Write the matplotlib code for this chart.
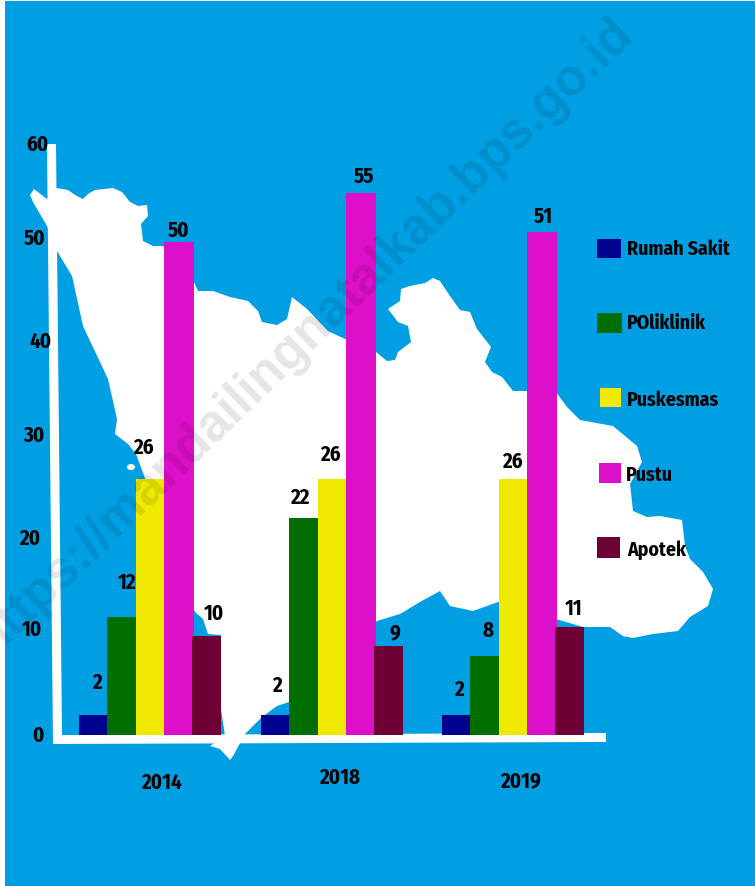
import matplotlib
matplotlib.use('Agg')
import matplotlib.pyplot as plt
from matplotlib.patches import Polygon, Rectangle, Ellipse

years = ['2014', '2018', '2019']
series = ['Rumah Sakit', 'POliklinik', 'Puskesmas', 'Pustu', 'Apotek']
rumah_sakit = [2, 2, 2]
poliklinik = [12, 22, 8]
puskesmas = [26, 26, 26]
pustu = [50, 55, 51]
apotek = [10, 9, 11]
ticks = [60, 50, 40, 30, 20, 10, 0]

values = [rumah_sakit, poliklinik, puskesmas, pustu, apotek]
colors = ['#00008e', '#006f00', '#efea00', '#dc10c8', '#6d0035']
bg = '#009fe3'

# layout, all in image pixels
W, H = 755, 887
base_px, top_px = 736, 144.8
group_left = [79, 261, 442]
bar_off = [0, 28, 56.5, 85, 113]
bar_w = [28, 29, 29, 30, 28.5]
tick_xy = [(37, 144), (35, 238), (41, 341), (34, 435), (30, 538), (32, 629), (38, 735)]
year_xy = [(161, 782), (340, 777), (520, 780)]
label_xy = [
    [(97, 682), (277, 685), (459, 689)],
    [(127, 582), (300, 497), (488, 630)],
    [(143, 447), (330, 454), (512, 461)],
    [(179, 230), (364, 176), (543, 216)],
    [(214, 613), (395, 632), (574, 608)],
]
legend_box = [(597, 240, 24, 19), (597, 314, 25, 20), (600, 389, 21, 19), (599, 464, 22, 20), (597, 538, 23, 21)]
legend_text = [(627, 248), (627, 322), (627, 399), (626, 474), (627, 549)]

# outline of the map behind the chart
island = [
    (30, 196), (34, 190), (47, 200), (57, 189), (68, 191), (75, 196), (83, 200), (88, 195), (95, 191),
    (113, 189), (122, 193), (130, 203), (138, 207), (147, 206), (148, 217), (141, 225), (143, 242),
    (153, 247), (163, 247), (194, 283), (198, 292), (213, 292), (230, 298), (248, 302), (258, 312),
    (262, 323), (277, 326), (287, 320), (292, 298), (307, 310), (328, 332), (345, 340), (376, 353),
    (387, 362), (395, 361), (398, 353), (411, 343), (408, 327), (398, 323), (388, 310), (400, 302),
    (401, 290), (410, 287), (425, 284), (433, 279), (440, 282), (450, 297), (460, 311), (470, 313),
    (477, 330), (491, 348), (485, 363), (492, 373), (502, 378), (513, 392), (527, 392), (556, 393),
    (567, 408), (580, 421), (613, 427), (637, 447), (642, 463), (630, 485), (633, 512), (647, 518),
    (660, 517), (682, 521), (685, 547), (690, 560), (703, 573), (713, 590), (708, 607), (690, 618),
    (678, 632), (653, 635), (633, 639), (623, 637), (610, 628), (583, 628), (498, 603), (473, 612),
    (450, 607), (440, 592), (420, 603), (400, 615), (377, 622), (289, 703), (277, 707), (262, 718),
    (245, 735), (233, 757), (230, 761), (220, 750), (210, 747), (225, 737), (221, 710), (221, 636),
    (208, 635), (203, 620), (195, 613), (136, 455), (128, 445), (115, 435), (117, 420), (108, 380),
    (83, 327), (72, 277), (57, 252), (47, 227), (33, 203),
]

font = ['Fira Sans Condensed', 'Roboto Condensed', 'Roboto', 'DejaVu Sans']

fig = plt.figure(figsize=(W / 100, H / 100), dpi=100, facecolor='white')

back = fig.add_axes([0, 0, 1, 1], zorder=0)
back.set_xlim(0, W)
back.set_ylim(H, 0)
back.axis('off')
back.add_patch(Rectangle((5, 2), W - 5, H - 2, color=bg, lw=0))
back.add_patch(Polygon(island, closed=True, color='white', lw=0))
back.add_patch(Ellipse((131, 468), 8, 6, color='white', lw=0))
# hand drawn axes, slightly tilted
back.add_patch(Polygon([(47, 145), (56, 145), (62, 736), (606, 734), (606, 743), (53, 745)],
                       closed=True, color='white', lw=0))

ax = fig.add_axes([0, 1 - base_px / H, 1, (base_px - top_px) / H], zorder=1)
ax.patch.set_alpha(0)
ax.set_xlim(0, W)
ax.set_ylim(0, 60)
ax.axis('off')
for i, vals in enumerate(values):
    xs = [g + bar_off[i] for g in group_left]
    ax.bar(xs, vals, width=bar_w[i], align='edge', color=colors[i], lw=0, zorder=2 + i)

top = fig.add_axes([0, 0, 1, 1], zorder=2)
top.patch.set_alpha(0)
top.set_xlim(0, W)
top.set_ylim(H, 0)
top.axis('off')

txt = dict(family=font, weight='bold', color='black', fontsize=15)
for t, (x, y) in zip(ticks, tick_xy):
    top.text(x, y + 1, str(t), ha='center', va='center', **txt)
for yr, (x, y) in zip(years, year_xy):
    top.text(x, y + 1, yr, ha='center', va='center', **txt)
for vals, pos in zip(values, label_xy):
    for v, (x, y) in zip(vals, pos):
        top.text(x, y + 1, str(v), ha='center', va='center', **txt)
for name, c, (x, y, w, h), (tx, ty) in zip(series, colors, legend_box, legend_text):
    top.add_patch(Rectangle((x, y), w, h, color=c, lw=0))
    top.text(tx, ty + 1, name, ha='left', va='center', family=font, weight='bold', color='black', fontsize=14.2)

top.text(304, 337, 'https://mandailingnatalkab.bps.go.id', rotation=44, rotation_mode='anchor',
         ha='center', va='center', family=['Liberation Sans', 'DejaVu Sans'], weight='bold', fontsize=37,
         color='black', alpha=0.1)

fig.savefig('out.png', dpi=100)
